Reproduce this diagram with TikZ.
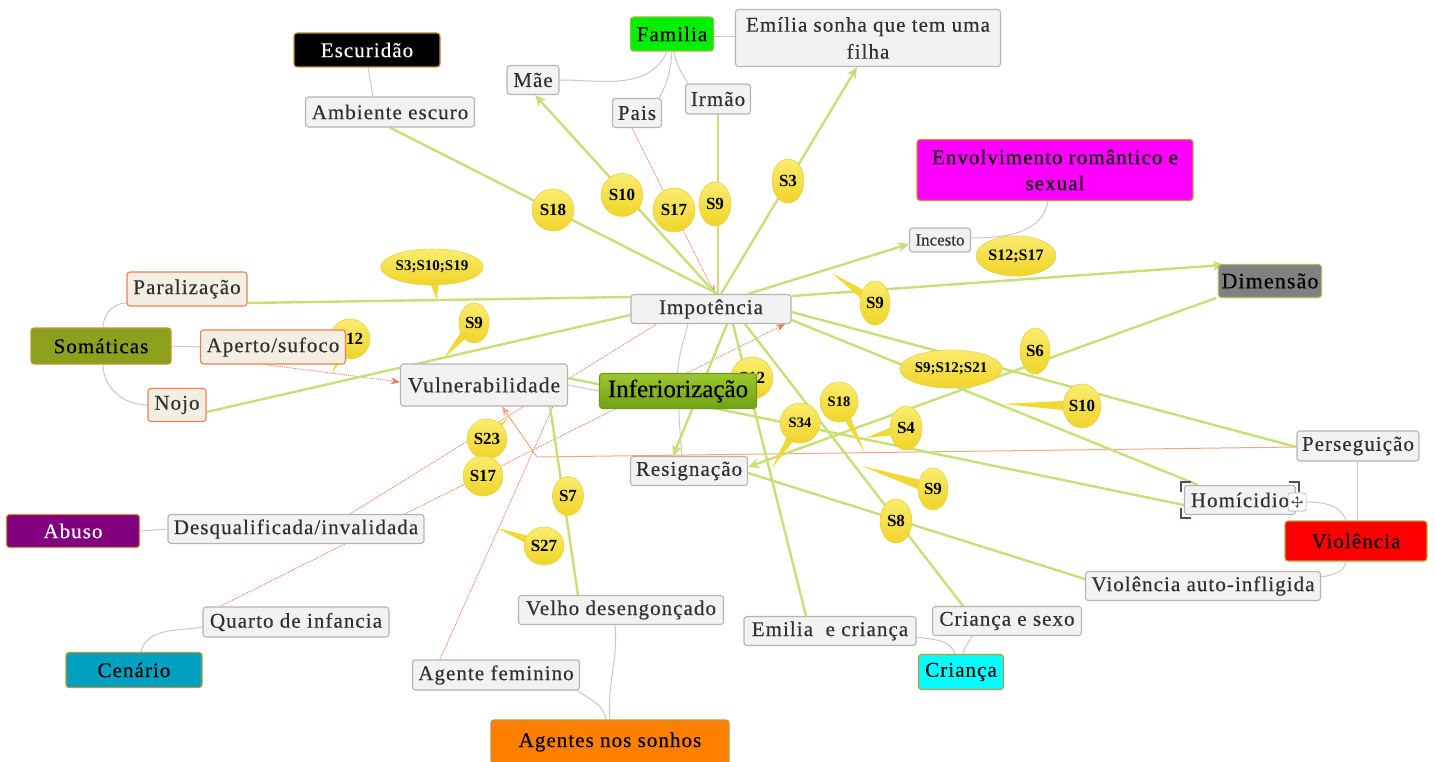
\documentclass[tikz,border=0pt]{standalone}
\usepackage{fontspec}
\setmainfont{Liberation Serif}
\newfontfamily\lbl{Liberation Serif}[LetterSpace=5,FakeBold=0.35]
\newfontfamily\bfl{Liberation Serif}[FakeBold=0.35]
\usetikzlibrary{calc,arrows.meta,shapes.geometric}
\pgfdeclarelayer{bg}
\pgfdeclarelayer{tails}
\pgfdeclarelayer{mid}
\pgfsetlayers{bg,tails,mid,main}
\definecolor{gline}{RGB}{198,224,120}
\definecolor{oline}{RGB}{240,120,80}
\definecolor{oline2}{RGB}{248,165,130}
\definecolor{tline}{RGB}{200,200,200}
\definecolor{boxline}{RGB}{180,180,180}
\definecolor{boxfill}{RGB}{242,242,242}
\definecolor{boxtext}{RGB}{48,48,48}
\definecolor{creamline}{RGB}{236,128,80}
\definecolor{creamfill}{RGB}{242,238,226}
\definecolor{goldline}{RGB}{195,150,50}
\definecolor{famg}{RGB}{0,240,0}
\definecolor{famline}{RGB}{150,190,60}
\definecolor{magg}{RGB}{255,0,255}
\definecolor{cyng}{RGB}{0,255,255}
\definecolor{redg}{RGB}{255,0,0}
\definecolor{dimg}{RGB}{128,128,128}
\definecolor{dimline}{RGB}{160,190,90}
\definecolor{somg}{RGB}{140,160,30}
\definecolor{abug}{RGB}{128,0,128}
\definecolor{ceng}{RGB}{0,160,192}
\definecolor{agsg}{RGB}{255,128,0}
\definecolor{vioine}{RGB}{170,170,60}
\definecolor{inftop}{RGB}{155,200,45}
\definecolor{infbot}{RGB}{112,162,22}
\definecolor{infline}{RGB}{115,150,30}
\definecolor{bubtop}{RGB}{250,236,110}
\definecolor{bubbot}{RGB}{240,212,40}
\definecolor{bubline}{RGB}{232,208,80}
\definecolor{tailc}{RGB}{242,216,50}
\definecolor{selc}{RGB}{70,80,105}
\newcommand{\btail}[3]{\fill[tailc] ($(#1.center)!#3!90:#2$) -- #2 -- ($(#1.center)!#3!-90:#2$) -- cycle;}
\begin{document}
\begin{tikzpicture}[x=1pt,y=-1pt,
 box/.style={draw=boxline,fill=boxfill,rounded corners=3pt,line width=1.1pt,inner sep=0pt,text=boxtext,align=center,font=\lbl\fontsize{21}{27}\selectfont},
 cream/.style={box,draw=creamline,fill=creamfill},
 cat/.style={draw=goldline,rounded corners=3pt,line width=1.1pt,inner sep=0pt,text=black,align=center,font=\lbl\fontsize{21}{26}\selectfont},
 bub/.style={ellipse,inner sep=0pt,draw=bubline,line width=0.6pt,top color=bubtop,bottom color=bubbot,text=black,font=\bfseries\fontsize{17}{19}\selectfont},
 mbub/.style={bub,font=\bfseries\fontsize{15}{17}\selectfont},
 sbub/.style={bub,font=\bfseries\fontsize{14.5}{16}\selectfont},
 gl/.style={draw=gline,line width=2.4pt},
 ga/.style={gl,-{Stealth[length=11pt,width=10pt,inset=3pt]}},
 ol/.style={draw=oline,line width=0.9pt,densely dotted},
 oa/.style={ol,-{Stealth[length=9pt,width=7pt]}},
 tl/.style={draw=tline,line width=1pt},
]
\useasboundingbox (0,0) rectangle (1435,762);

% ---------- category nodes
\node[cat,fill=black,text=white,minimum width=146pt,minimum height=34pt] (esc) at (367,50) {Escuridão};
\node[cat,fill=famg,draw=famline,minimum width=83pt,minimum height=34pt] (fam) at (672,34) {Familia};
\node[cat,fill=magg,minimum width=276pt,minimum height=61pt] (env) at (1055,170) {Envolvimento romântico e\\sexual};
\node[cat,fill=dimg,draw=dimline,minimum width=103pt,minimum height=33pt,font=\lbl\fontsize{22}{26}\selectfont] (dim) at (1270,281) {Dimensão};
\node[cat,fill=somg,minimum width=140pt,minimum height=36pt] (som) at (101,346) {Somáticas};
\node[cat,fill=abug,text=white,minimum width=133pt,minimum height=33pt] (abuso) at (73,531) {Abuso};
\node[cat,fill=ceng,minimum width=136pt,minimum height=35pt] (cen) at (134,670) {Cenário};
\node[cat,fill=agsg,minimum width=238pt,minimum height=44pt] (ags) at (610,742) {Agentes nos sonhos};
\node[cat,fill=cyng,minimum width=85pt,minimum height=35pt] (cri) at (961,672) {Criança};
\node[cat,fill=redg,draw=vioine,minimum width=142pt,minimum height=40pt] (vio) at (1356,541) {Violência};
\node[cat,top color=inftop,bottom color=infbot,draw=infline,minimum width=157pt,minimum height=35pt,font=\bfl\fontsize{25}{28}\selectfont] (inf) at (678,391) {Inferiorização};

% ---------- gray / cream nodes
\node[box,minimum width=265pt,minimum height=57pt] (emi) at (868,38) {Emília sonha que tem uma\\filha};
\node[box,minimum width=52pt,minimum height=29pt] (mae) at (533,80) {Mãe};
\node[box,minimum width=49pt,minimum height=29pt] (pais) at (637,113) {Pais};
\node[box,minimum width=65pt,minimum height=30pt] (irmao) at (718,99) {Irmão};
\node[box,minimum width=169pt,minimum height=30pt] (amb) at (390,112) {Ambiente escuro};
\node[box,minimum width=61pt,minimum height=24pt,font=\bfl\fontsize{17}{20}\selectfont] (inc) at (940,240) {Incesto};
\node[box,minimum width=160pt,minimum height=29pt] (imp) at (711,309) {Impotência};
\node[cream,minimum width=120pt,minimum height=34pt] (par) at (187,289) {Paralização};
\node[cream,minimum width=145pt,minimum height=34pt] (ape) at (273,347) {Aperto/sufoco};
\node[cream,minimum width=58pt,minimum height=33pt] (nojo) at (177,405) {Nojo};
\node[box,minimum width=167pt,minimum height=42pt,font=\lbl\fontsize{21.5}{26}\selectfont] (vul) at (484,385) {Vulnerabilidade};
\node[box,minimum width=117pt,minimum height=29pt] (res) at (689,471) {Resignação};
\node[box,minimum width=122pt,minimum height=30pt] (pers) at (1358,446) {Perseguição};
\node[box,minimum width=111pt,minimum height=29pt] (hom) at (1240,500) {Homícidio};
\node[box,minimum width=235pt,minimum height=29pt] (vaf) at (1203,586) {Violência auto-infligida};
\node[box,minimum width=256pt,minimum height=29pt] (desq) at (296,529) {Desqualificada/invalidada};
\node[box,minimum width=186pt,minimum height=30pt] (quarto) at (296,622) {Quarto de infancia};
\node[box,minimum width=205pt,minimum height=29pt] (velho) at (621,610) {Velho desengonçado};
\node[box,minimum width=167pt,minimum height=30pt] (agf) at (496,675) {Agente feminino};
\node[box,minimum width=172pt,minimum height=29pt] (emc) at (830,631) {Emilia\ \ e criança};
\node[box,minimum width=149pt,minimum height=29pt] (cs) at (1007,621) {Criança e sexo};

% selection marks on Homicidio
\draw[selc,line width=2.5pt] ($(hom.north west)+(-3,7)$) -- ($(hom.north west)+(-3,-3)$) -- ($(hom.north west)+(7,-3)$);
\draw[selc,line width=2.5pt] ($(hom.north east)+(-7,-3)$) -- ($(hom.north east)+(3,-3)$) -- ($(hom.north east)+(3,7)$);
\draw[selc,line width=2.5pt] ($(hom.south west)+(-3,-7)$) -- ($(hom.south west)+(-3,3)$) -- ($(hom.south west)+(7,3)$);
\coordinate (mv) at ($(hom.east)+(1,2)$);
\draw[fill=white,draw=black!30,rounded corners=2pt,line width=0.6pt] ($(mv)+(-9,-9)$) rectangle ($(mv)+(9,9)$);
\draw[black!65,line width=0.8pt,{Triangle[length=2.5pt,width=3.5pt]}-{Triangle[length=2.5pt,width=3.5pt]}] ($(mv)+(-6,0)$) -- ($(mv)+(6,0)$);
\draw[black!65,line width=0.8pt,{Triangle[length=2.5pt,width=3.5pt]}-{Triangle[length=2.5pt,width=3.5pt]}] ($(mv)+(0,-6)$) -- ($(mv)+(0,6)$);

% ---------- bubbles
\begin{pgfonlayer}{mid}
\node[bub,minimum width=42pt,minimum height=42pt] (b1) at (553,210) {S18};
\node[bub,minimum width=42pt,minimum height=43pt] (b2) at (622,195) {S10};
\node[bub,minimum width=42pt,minimum height=44pt] (b3) at (674,210) {S17};
\node[bub,minimum width=32pt,minimum height=44pt] (b4) at (715,204) {S9};
\node[bub,minimum width=32pt,minimum height=44pt] (b5) at (788,181) {S3};
\node[mbub,minimum width=96pt,minimum height=36pt] (b6) at (432,267) {S3;S10;S19};
\node[bub,minimum width=30pt,minimum height=40pt] (b7) at (474,323) {S9};
\node[bub,minimum width=40pt,minimum height=40pt] (b8) at (350,339) {S12};
\node[mbub,minimum width=80pt,minimum height=40pt,font=\bfseries\fontsize{16}{18}\selectfont] (b9) at (1016,256) {S12;S17};
\node[bub,minimum width=30pt,minimum height=44pt] (b10) at (875,303) {S9};
\node[bub,minimum width=30pt,minimum height=46pt] (b11) at (1035,351) {S6};
\node[mbub,minimum width=96pt,minimum height=38pt] (b12) at (951,369) {S9;S12;S21};
\node[bub,minimum width=38pt,minimum height=44pt] (b13) at (1082,406) {S10};
\node[bub,minimum width=42pt,minimum height=42pt] (b14) at (752,378) {S12};
\node[sbub,minimum width=38pt,minimum height=40pt] (b15) at (839,402) {S18};
\node[sbub,minimum width=40pt,minimum height=40pt] (b16) at (800,423) {S34};
\node[bub,minimum width=32pt,minimum height=44pt] (b17) at (906,428) {S4};
\node[bub,minimum width=40pt,minimum height=40pt] (b18) at (487,439) {S23};
\node[bub,minimum width=40pt,minimum height=40pt] (b19) at (483,476) {S17};
\node[bub,minimum width=31pt,minimum height=39pt] (b20) at (568,496) {S7};
\node[bub,minimum width=40pt,minimum height=38pt] (b21) at (544,546) {S27};
\node[bub,minimum width=30pt,minimum height=42pt] (b22) at (933,489) {S9};
\node[bub,minimum width=32pt,minimum height=44pt] (b23) at (896,521) {S8};
\end{pgfonlayer}

\begin{pgfonlayer}{tails}
\btail{b6}{(437,300)}{8pt}
\btail{b7}{(444,358)}{6pt}
\btail{b8}{(332,373)}{6pt}
\btail{b9}{(1020,279)}{6pt}
\btail{b10}{(832,273)}{6pt}
\btail{b11}{(1038,376)}{5pt}
\btail{b13}{(1003,404)}{6pt}
\btail{b15}{(865,453)}{5pt}
\btail{b16}{(772,468)}{6pt}
\btail{b17}{(865,438)}{6pt}
\btail{b18}{(508,418)}{5pt}
\btail{b21}{(497,528)}{6pt}
\btail{b22}{(862,466)}{6pt}
\end{pgfonlayer}

% ---------- connectors
\begin{pgfonlayer}{bg}
% tree links
\draw[tl] ($(esc.south)+(1,0)$) to[out=-80,in=100] ($(amb.north)+(-17,0)$);
\draw[tl] ($(fam.south)+(-5,0)$) to[out=-115,in=0] (mae.east);
\draw[tl] (fam.south) to[out=-95,in=60] ($(pais.north east)+(-3,0)$);
\draw[tl] ($(fam.south)+(2,0)$) to[out=-80,in=120] ($(irmao.north west)+(3,0)$);
\draw[tl] ($(fam.east)+(0,3)$) -- ($(emi.west)+(0,-1)$);
\draw[tl] ($(env.south)+(-7,0)$) to[out=-100,in=0] ($(inc.east)+(0,-2)$);
\draw[tl] ($(som.north)+(2,0)$) to[out=90,in=180] ($(par.west)+(0,14)$);
\draw[tl] ($(som.south)+(2,0)$) to[out=-90,in=180] (nojo.west);
\draw[tl] (som.east) -- (ape.west);
\draw[tl] (abuso.east) -- (desq.west);
\draw[tl] ($(cen.north)+(7,0)$) to[out=75,in=190] ($(quarto.west)+(0,5)$);
\draw[tl] ($(ags.north)+(-4,0)$) to[out=100,in=-35] ($(agf.south east)+(-3,0)$);
\draw[tl] (ags.north) to[out=95,in=-85] ($(velho.south)+(-6,0)$);
\draw[tl] ($(cri.north)+(-6,0)$) to[out=110,in=-10] ($(emc.east)+(0,6)$);
\draw[tl] ($(cri.north)+(2,0)$) to[out=80,in=-115] ($(cs.south)+(-35,0)$);
\draw[tl] ($(pers.south)+(-1,0)$) -- ($(vio.north)+(1,0)$);
\draw[tl] ($(hom.east)+(5,2)$) to[out=0,in=110] ($(vio.north)+(-10,0)$);
\draw[tl] ($(vio.south)+(-10,0)$) to[out=-100,in=10] ($(vaf.east)+(0,-9)$);
\draw[tl] (vul.east) -- (inf.west);
\draw[tl] ($(imp.south)+(-23,0)$) to[out=-105,in=95] (inf.center);
\draw[tl] (inf.center) to[out=-88,in=95] ($(res.north)+(-7,0)$);

% orange links
\draw[oa] ($(pais.south)+(-5,0)$) -- ($(imp.north)+(4,0)$);
\draw[oa] ($(ape.south)+(-8,0)$) -- ($(vul.west)+(0,-3)$);
\draw[ol] ($(desq.north)+(54,0)$) -- ($(imp.south)+(-54,0)$);
\draw[oa] ($(quarto.north)+(-76,0)$) -- ($(imp.south)+(74,0)$);
\draw[ol] ($(agf.north)+(-56,0)$) -- ($(vul.south)+(69,0)$);
\coordinate (bend) at (537,457);
\draw[draw=oline2,line width=1pt,-{Stealth[length=9pt,width=7pt]}] ($(pers.west)+(0,1)$) -- (bend) -- ($(vul.south)+(18,0)$);

% green links
\draw[gl] (amb.south) -- ($(imp.north)+(7,0)$);
\draw[ga] ($(imp.north)+(5,0)$) -- ($(mae.south)+(2,0)$);
\draw[gl] (irmao.south) -- ($(imp.north)+(7,0)$);
\draw[ga] ($(imp.north)+(10,0)$) -- ($(emi.south)+(-11,0)$);
\draw[ga] ($(imp.north)+(37,0)$) -- ($(inc.west)+(0,4)$);
\draw[gl] ($(par.east)+(0,14)$) -- ($(imp.west)+(0,-12)$);
\draw[ga] ($(imp.east)+(0,-13)$) -- ($(dim.north west)+(6,1)$);
\draw[gl] ($(imp.east)+(0,3)$) -- ($(pers.west)+(0,1)$);
\draw[gl] ($(imp.east)+(0,11)$) -- ($(hom.north west)+(14,0)$);
\draw[gl] ($(imp.south)+(34,0)$) -- ($(cs.north)+(-44,0)$);
\draw[gl] ($(imp.south)+(22,0)$) -- ($(emc.north)+(-24,0)$);
\draw[ga] ($(imp.south)+(16,0)$) -- ($(res.north)+(-16,0)$);
\draw[gl] ($(nojo.east)+(0,7)$) -- ($(imp.west)+(0,6)$);
\draw[gl] ($(vul.east)+(0,-7)$) -- ($(hom.west)+(0,5)$);
\draw[gl] ($(vul.south)+(66,0)$) -- ($(velho.north)+(-43,0)$);
\draw[ga] ($(dim.south west)+(-2,0)$) -- ($(res.east)+(0,-4)$);
\draw[gl] ($(res.east)+(0,2)$) -- ($(vaf.west)+(0,-7)$);
\end{pgfonlayer}
\end{tikzpicture}
\end{document}
